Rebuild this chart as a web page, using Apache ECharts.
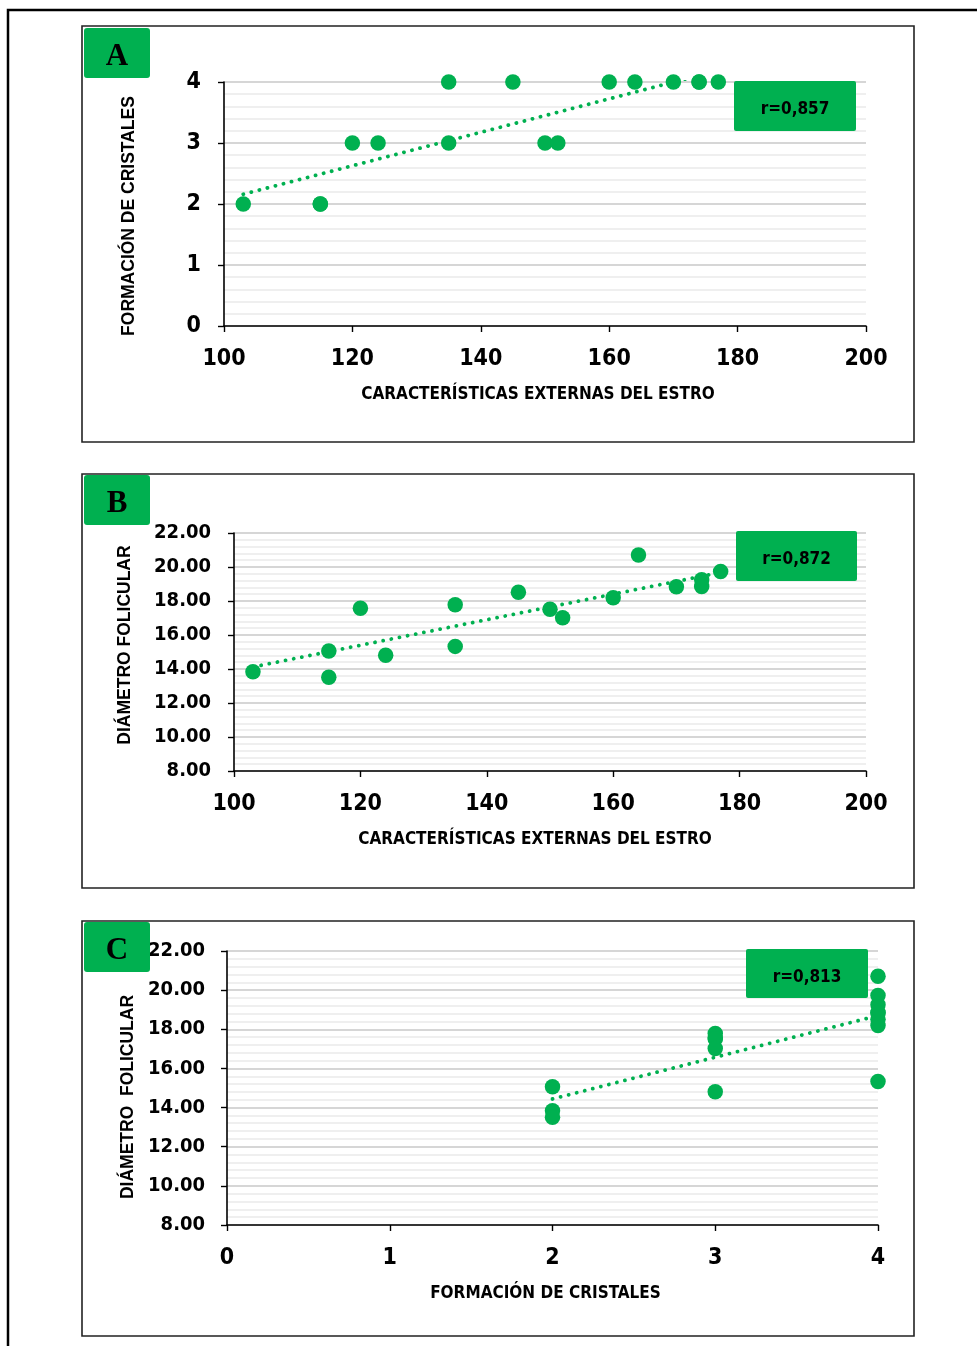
<!DOCTYPE html>
<html>
<head>
<meta charset="utf-8">
<title>Correlaciones: estro, cristales y diámetro folicular</title>
<script src="https://cdn.jsdelivr.net/npm/echarts@6/dist/echarts.min.js"></script>
<style>
  html, body { margin: 0; padding: 0; background: #ffffff; }
  #chart { width: 977px; height: 1346px; }
</style>
</head>
<body>
<div id="chart"></div>
<script>
// Observations, one entry per animal
const estro = [103, 115, 115, 120, 124, 135, 135, 145, 150, 152, 160, 164, 170, 174, 174, 177];
const cristales = [2, 2, 2, 3, 3, 3, 4, 4, 3, 3, 4, 4, 4, 4, 4, 4];
const diametro = [13.84, 15.06, 13.51, 17.57, 14.81, 17.78, 15.33, 18.51, 17.51, 17.02, 18.19, 20.71, 18.84, 19.25, 18.85, 19.73];

// Linear trend lines (end points)
const trendA = [[103, 2.16], [177, 4.19]];
const trendB = [[103, 14.12], [177, 19.68]];
const trendC = [[2, 14.44], [4, 18.70]];

// Panel letters, correlation labels and axis titles
const panelLetters = ['A', 'B', 'C'];
const rLabels = ['r=0,857', 'r=0,872', 'r=0,813'];
const xTitles = ['CARACTERÍSTICAS EXTERNAS DEL ESTRO', 'CARACTERÍSTICAS EXTERNAS DEL ESTRO', 'FORMACIÓN DE CRISTALES'];
const yTitles = ['FORMACIÓN DE CRISTALES', 'DIÁMETRO FOLICULAR', 'DIÁMETRO  FOLICULAR'];

// Axis ranges
const xRanges = [{ min: 100, max: 200, interval: 20 }, { min: 100, max: 200, interval: 20 }, { min: 0, max: 4, interval: 1 }];
const yRanges = [{ min: 0, max: 4, interval: 1 }, { min: 8, max: 22, interval: 2 }, { min: 8, max: 22, interval: 2 }];

const GREEN = '#00b050';
const NARROW = "'DejaVu Sans Condensed', 'Liberation Sans', sans-serif";
const WIDE = "'Liberation Sans', Arial, sans-serif";

const pairs = [
  estro.map((v, i) => [v, cristales[i]]),
  estro.map((v, i) => [v, diametro[i]]),
  cristales.map((v, i) => [v, diametro[i]])
];
const trends = [trendA, trendB, trendC];

const grids = [
  { left: 224, top: 82, width: 642, height: 244 },
  { left: 234, top: 533, width: 632, height: 238 },
  { left: 227, top: 951, width: 651, height: 274 }
];
const frames = [
  { y: 26, height: 416 },
  { y: 474, height: 414 },
  { y: 921, height: 415 }
];
const letterBoxes = [
  { y: 28 }, { y: 475 }, { y: 922 }
];
const rBoxes = [
  { x: 734, y: 81, width: 122, height: 50 },
  { x: 736, y: 531, width: 121, height: 50 },
  { x: 746, y: 949, width: 122, height: 49 }
];
const xNamePad = [[0, 14, 0, 0], [0, 30, 0, 0], [0, 14, 0, 0]];
const yNamePad = [[0, 24, 0, 0], [0, 0, 0, 14], [0, 18, 0, 0]];
const yNameGap = [86, 100, 89];
const yLabelSize = [23, 20, 20];
const yLabelMargin = [23, 23, 22];

const axisLine = { show: true, onZero: false, lineStyle: { color: '#000000', width: 1.6 } };
const axisTick = { show: true, inside: false, length: 6, lineStyle: { color: '#000000', width: 1.4 } };

const xAxis = xRanges.map((r, i) => ({
  type: 'value', gridIndex: i,
  min: r.min, max: r.max, interval: r.interval,
  axisLine, axisTick,
  splitLine: { show: false },
  axisLabel: { margin: 22, color: '#000', fontFamily: NARROW, fontWeight: 'bold', fontSize: 23 },
  name: xTitles[i], nameLocation: 'middle', nameGap: 60,
  nameTextStyle: { color: '#000', fontFamily: NARROW, fontWeight: 'bold', fontSize: 17, padding: xNamePad[i] }
}));

const yAxis = yRanges.map((r, i) => ({
  type: 'value', gridIndex: i,
  min: r.min, max: r.max, interval: r.interval,
  axisLine, axisTick,
  splitLine: { show: true, lineStyle: { color: '#d6d6d6', width: 2 } },
  minorTick: { show: false, splitNumber: 5 },
  minorSplitLine: { show: true, lineStyle: { color: '#efefef', width: 2 } },
  axisLabel: {
    margin: yLabelMargin[i], color: '#000', fontFamily: NARROW, fontWeight: 'bold', fontSize: yLabelSize[i],
    formatter: i === 0 ? (v => String(v)) : (v => v.toFixed(2))
  },
  name: yTitles[i], nameLocation: 'middle', nameGap: yNameGap[i],
  nameTextStyle: { color: '#000', fontFamily: WIDE, fontWeight: 'bold', fontSize: 17.5, padding: yNamePad[i] }
}));

const series = [];
pairs.forEach((d, i) => {
  series.push({
    type: 'scatter', xAxisIndex: i, yAxisIndex: i,
    data: d, symbolSize: 15.5, z: 3,
    itemStyle: { color: GREEN, opacity: 1 }
  });
  series.push({
    type: 'line', xAxisIndex: i, yAxisIndex: i,
    data: trends[i], symbol: 'none', clip: true, z: 4,
    lineStyle: { color: GREEN, width: 3.8, type: [0.1, 8.2], cap: 'round' }
  });
});

const graphic = [
  // outer page frame
  { type: 'rect', z: 1, shape: { x: 8, y: 10, width: 1000, height: 1400 },
    style: { fill: 'none', stroke: '#000000', lineWidth: 2.5 } }
];
frames.forEach((f, i) => {
  graphic.push({ type: 'rect', z: 1, shape: { x: 82, y: f.y, width: 832, height: f.height },
    style: { fill: 'none', stroke: '#222222', lineWidth: 1.6 } });
  graphic.push({ type: 'rect', z: 10, shape: { x: 84, y: letterBoxes[i].y, width: 66, height: 50, r: 3 },
    style: { fill: GREEN } });
  graphic.push({ type: 'text', z: 11, x: 117, y: letterBoxes[i].y + 29,
    style: { text: panelLetters[i], fill: '#000', font: "bold 31px 'Liberation Serif', 'DejaVu Serif', serif",
      align: 'center', verticalAlign: 'middle' } });
  const b = rBoxes[i];
  graphic.push({ type: 'rect', z: 10, shape: { x: b.x, y: b.y, width: b.width, height: b.height, r: 2 },
    style: { fill: GREEN } });
  graphic.push({ type: 'text', z: 11, x: b.x + b.width / 2, y: b.y + b.height / 2 + 4,
    style: { text: rLabels[i], fill: '#000', font: "bold 17px " + NARROW,
      align: 'center', verticalAlign: 'middle' } });
});

const chart = echarts.init(document.getElementById('chart'), null, { renderer: 'canvas' });
chart.setOption({
  backgroundColor: '#ffffff',
  animation: false,
  grid: grids,
  xAxis, yAxis, series, graphic
});
</script>
</body>
</html>
